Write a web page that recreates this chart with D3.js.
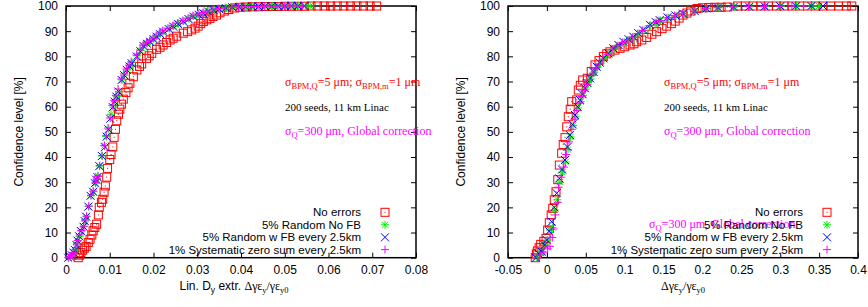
<!DOCTYPE html>
<html>
<head>
<meta charset="utf-8">
<script src="https://cdn.jsdelivr.net/npm/d3@7"></script>
<style>
body{margin:0;background:#fff}
text{font-family:"Liberation Sans",Arial,sans-serif;fill:#000}
.serif{font-family:"Liberation Serif","Times New Roman",serif}
</style>
</head>
<body>
<div id="grafico"></div>
<script>
// legend labels
const seriesNames=["No errors","5% Random No FB","5% Random w FB every 2.5km","1% Systematic zero sum every 2.5km"]
const seriesColors=["#ff0000","#00ee00","#0000ff","#ff00ff"]
const seriesMarks=["square","star","cross","plus"]

// tick labels
const leftTicks=[0,0.01,0.02,0.03,0.04,0.05,0.06,0.07,0.08]
const rightTicks=[-0.05,0,0.05,0.1,0.15,0.2,0.25,0.3,0.35,0.4]
const yTicks=[0,10,20,30,40,50,60,70,80,90,100]

// left panel: [value, confidence %]
const leftNoErrors=[[0.0028,0],[0.0031,1],[0.0034,2],[0.0038,3],[0.0042,3.8],[0.0046,4.5],[0.0051,6],[0.0055,7.3],[0.0059,9],[0.0062,10.7],[0.0066,12],[0.0070,13.3],[0.0074,17],[0.0076,20],[0.0081,22],[0.0084,23.2],[0.0087,26],[0.0090,28.5],[0.0093,32],[0.0095,35.5],[0.0100,39],[0.0103,41],[0.0107,44],[0.0110,47.8],[0.0113,51],[0.0116,54.4],[0.0120,57],[0.0123,59],[0.0127,61],[0.0131,63],[0.0137,65.6],[0.0142,67.5],[0.0146,69.3],[0.0154,71.9],[0.0162,74.6],[0.0168,76],[0.0173,77],[0.0184,79.2],[0.0190,80.2],[0.0196,81.2],[0.0207,82.8],[0.0215,83.6],[0.0222,84.5],[0.0230,85.5],[0.0238,86.5],[0.0245,87.2],[0.0253,88],[0.0268,89.2],[0.0278,89.8],[0.0287,90.5],[0.0295,91.2],[0.0302,92],[0.0308,93],[0.0314,93.8],[0.0322,94.5],[0.0329,95.1],[0.0336,95.8],[0.0344,96.4],[0.0352,97.3],[0.0362,98],[0.0372,98.6],[0.0385,99.2],[0.0398,99.5],[0.0412,99.6],[0.0426,99.7],[0.0440,99.7],[0.0455,99.8],[0.0470,99.8],[0.0485,99.8],[0.0500,99.9],[0.0515,99.9],[0.0530,99.9],[0.0545,99.9],[0.0560,100],[0.0575,100],[0.0590,100],[0.0605,100],[0.0620,100],[0.0635,100],[0.0650,100],[0.0665,100],[0.0680,100],[0.0695,100],[0.0710,100]]
const leftRandomNoFB=[[0.0006,0],[0.0010,0.5],[0.0014,1],[0.0018,2],[0.0022,3],[0.0025,5],[0.0027,6.8],[0.0031,8.5],[0.0035,10.6],[0.0040,12.3],[0.0044,14.5],[0.0047,16.3],[0.0052,20.3],[0.0057,24.6],[0.0063,26.2],[0.0068,29.6],[0.0071,31],[0.0073,32.5],[0.0077,36.4],[0.0083,40.4],[0.0088,44.5],[0.0092,48.1],[0.0098,51],[0.0103,57],[0.0108,59.8],[0.0112,62],[0.0116,64],[0.0121,66],[0.0128,70.6],[0.0134,72.5],[0.0140,74.6],[0.0146,76.2],[0.0151,77.5],[0.0163,80.2],[0.0171,82.3],[0.0178,84.3],[0.0186,85.2],[0.0193,86],[0.0201,87],[0.0208,88],[0.0216,89],[0.0224,90],[0.0236,91],[0.0246,92],[0.0257,93],[0.0269,94],[0.0281,95],[0.0292,96],[0.0304,96.7],[0.0315,97.3],[0.0327,98],[0.0339,98.5],[0.0352,98.9],[0.0367,99.2],[0.0382,99.5],[0.0397,99.6],[0.0412,99.7],[0.0427,99.8],[0.0442,99.8],[0.0457,99.9],[0.0472,99.9],[0.0487,99.9],[0.0502,100],[0.0517,100],[0.0532,100],[0.0547,100],[0.0558,100]]
const leftRandomFB=[[0.0005,0],[0.0009,0.5],[0.0013,1],[0.0017,2],[0.0021,3],[0.0024,5],[0.0026,6.8],[0.0030,8.5],[0.0034,10.6],[0.0040,12.3],[0.0043,14.5],[0.0046,16.3],[0.0051,20.3],[0.0056,24.6],[0.0062,26.2],[0.0066,29.6],[0.0069,31],[0.0072,32],[0.0076,36.4],[0.0082,40.4],[0.0089,43.9],[0.0093,48.1],[0.0097,51],[0.0101,55.2],[0.0107,59.8],[0.0111,62],[0.0115,64],[0.0120,66],[0.0127,70.6],[0.0133,72.5],[0.0139,74.6],[0.0145,76],[0.0150,77.2],[0.0162,79.9],[0.0170,82],[0.0177,84.1],[0.0185,85],[0.0192,85.8],[0.0200,86.8],[0.0207,87.8],[0.0215,88.8],[0.0222,89.8],[0.0235,90.8],[0.0245,91.8],[0.0256,92.8],[0.0268,93.8],[0.0280,94.8],[0.0291,95.8],[0.0303,96.5],[0.0314,97.1],[0.0325,97.8],[0.0337,98.4],[0.0350,98.8],[0.0365,99.2],[0.0380,99.5],[0.0395,99.6],[0.0410,99.7],[0.0425,99.8],[0.0440,99.8],[0.0455,99.9],[0.0470,99.9],[0.0485,99.9],[0.0500,100],[0.0515,100],[0.0530,100],[0.0545,100]]
const leftSystematic=[[0.0005,0],[0.0010,0.5],[0.0014,1.2],[0.0018,2],[0.0022,3.2],[0.0025,5.5],[0.0027,6.8],[0.0031,9],[0.0035,10.8],[0.0041,12.5],[0.0044,15],[0.0047,16.5],[0.0052,20.5],[0.0057,24.8],[0.0062,26.5],[0.0067,29.8],[0.0070,31.3],[0.0073,32.3],[0.0077,36.6],[0.0082,40.6],[0.0088,44.5],[0.0092,48.5],[0.0096,51.5],[0.0101,55.5],[0.0106,60.5],[0.0110,62.5],[0.0114,64.5],[0.0119,67],[0.0126,71],[0.0132,73],[0.0138,75],[0.0144,76.5],[0.0149,77.8],[0.0161,80.5],[0.0169,82.5],[0.0176,84.5],[0.0184,85.4],[0.0191,86.2],[0.0199,87.2],[0.0206,88.2],[0.0214,89.2],[0.0221,90.2],[0.0233,91.2],[0.0244,92.2],[0.0255,93.2],[0.0267,94.2],[0.0279,95.2],[0.0290,96.2],[0.0302,96.8],[0.0313,97.4],[0.0324,98],[0.0336,98.6],[0.0349,99],[0.0364,99.3],[0.0379,99.5],[0.0394,99.6],[0.0409,99.7],[0.0424,99.8],[0.0439,99.8],[0.0454,99.9],[0.0469,99.9],[0.0484,99.9],[0.0499,100],[0.0514,100],[0.0529,100],[0.0540,100]]

// right panel: [value, confidence %]
const rightNoErrors=[[-0.0150,0],[-0.0135,1.5],[-0.0123,2.7],[-0.0100,4],[-0.0080,5.3],[-0.0040,6.5],[-0.0011,7.7],[0.0010,11],[0.0031,13.9],[0.0055,17],[0.0075,19.6],[0.0095,23],[0.0117,26.2],[0.0140,31],[0.0160,36.8],[0.0190,41.5],[0.0210,45],[0.0233,47.7],[0.0255,52],[0.0275,56],[0.0300,59],[0.0319,62],[0.0383,62.7],[0.0404,66.6],[0.0430,68.5],[0.0460,70.6],[0.0520,71.3],[0.0570,74],[0.0619,76.6],[0.0670,78.3],[0.0726,79.9],[0.0770,81],[0.0811,81.8],[0.0875,82.5],[0.0940,83.2],[0.1000,83.8],[0.1069,84.5],[0.1120,85],[0.1154,85.8],[0.1220,86.5],[0.1283,87.5],[0.1350,88.8],[0.1410,89.8],[0.1480,91],[0.1540,92],[0.1600,93],[0.1650,94],[0.1700,95.2],[0.1750,96.4],[0.1800,97.2],[0.1850,98],[0.1930,99],[0.2000,99.3],[0.2080,99.4],[0.2160,99.5],[0.2240,99.5],[0.2320,99.6],[0.2450,100],[0.2550,100],[0.2650,100],[0.2750,100],[0.2850,100],[0.2950,100],[0.3050,100],[0.3150,100],[0.3250,100],[0.3350,100],[0.3450,100],[0.3550,100],[0.3650,100],[0.3750,100],[0.3850,100],[0.3920,100]]
const rightRandomNoFB=[[-0.0130,0],[-0.0100,1.5],[-0.0060,2.5],[-0.0020,5],[0.0008,7],[0.0040,11],[0.0070,12],[0.0100,19],[0.0133,23],[0.0166,30],[0.0200,34],[0.0240,38],[0.0272,43],[0.0305,48],[0.0338,52.5],[0.0370,56],[0.0402,59.5],[0.0434,62],[0.0466,64.5],[0.0498,67],[0.0530,69],[0.0562,71],[0.0608,73.5],[0.0648,75.5],[0.0690,77.2],[0.0735,79],[0.0800,81],[0.0864,83],[0.0930,84.3],[0.0993,85.6],[0.1060,86.6],[0.1120,87.6],[0.1185,89],[0.1250,90.3],[0.1335,92.3],[0.1410,93.4],[0.1460,94.2],[0.1560,95.3],[0.1660,96.1],[0.1760,96.9],[0.1910,97.9],[0.2060,98.9],[0.2210,99.3],[0.2410,99.6],[0.2610,99.7],[0.2810,99.8],[0.3010,99.9],[0.3210,100],[0.3410,100],[0.3500,100]]
const rightRandomFB=[[-0.0140,0],[-0.0110,1.7],[-0.0067,2.4],[-0.0030,5],[-0.0002,7],[0.0030,10.5],[0.0062,14.3],[0.0095,20],[0.0126,25.6],[0.0160,31.5],[0.0195,35],[0.0233,38.8],[0.0265,44],[0.0297,48.7],[0.0330,53],[0.0361,56.7],[0.0395,60],[0.0426,62.7],[0.0458,65],[0.0490,67.3],[0.0520,69.5],[0.0554,71.3],[0.0600,73.8],[0.0640,75.9],[0.0680,77.5],[0.0726,79.2],[0.0790,81.2],[0.0854,83.2],[0.0920,84.5],[0.0983,85.8],[0.1050,86.8],[0.1111,87.8],[0.1175,89.2],[0.1240,90.5],[0.1326,92.5],[0.1400,93.6],[0.1450,94.4],[0.1550,95.5],[0.1650,96.3],[0.1750,97],[0.1900,98],[0.2050,99],[0.2200,99.4],[0.2400,99.6],[0.2600,99.7],[0.2800,99.8],[0.3000,99.9],[0.3200,100],[0.3400,100],[0.3550,100]]
const rightSystematic=[[-0.0120,0],[-0.0090,1],[-0.0040,2.2],[0.0010,3.5],[0.0040,4.5],[0.0070,8],[0.0085,11.4],[0.0110,17],[0.0140,22],[0.0150,28],[0.0185,32],[0.0220,36],[0.0250,41],[0.0285,46],[0.0320,51],[0.0352,55],[0.0385,58.5],[0.0418,61.5],[0.0450,64],[0.0482,66.5],[0.0514,68.8],[0.0546,70.8],[0.0592,73.3],[0.0632,75.4],[0.0672,77],[0.0718,78.8],[0.0782,80.8],[0.0846,82.8],[0.0912,84.2],[0.0975,85.5],[0.1042,86.5],[0.1103,87.6],[0.1167,89],[0.1232,90.3],[0.1318,92.2],[0.1392,93.4],[0.1442,94.2],[0.1542,95.3],[0.1642,96.2],[0.1742,96.9],[0.1892,97.9],[0.2042,98.9],[0.2192,99.3],[0.2392,99.6],[0.2592,99.7],[0.2792,99.8],[0.2992,99.9],[0.3150,100],[0.3300,100]]

const W=868, H=307

let svg=d3.select("#grafico")
  .append("svg")
    .attr("width",W)
    .attr("height",H)
    .style("background","#fff")

// marker shapes
let drawMark=(g,type,color,x,y)=>{
    let s=4
    let m=g.append("g").attr("transform",`translate(${x},${y})`)
      .attr("stroke",color).attr("fill","none").attr("stroke-width",1)
    if(type=="square"){
        m.append("rect").attr("x",-s).attr("y",-s).attr("width",2*s).attr("height",2*s)
        m.append("rect").attr("x",-0.5).attr("y",-0.5).attr("width",1).attr("height",1)
          .attr("fill",color).attr("stroke","none")
    }
    if(type=="plus"||type=="star"){
        m.append("path").attr("d",`M${-s},0H${s}M0,${-s}V${s}`)
    }
    if(type=="cross"||type=="star"){
        let c=type=="star"?3:s
        m.append("path").attr("d",`M${-c},${-c}L${c},${c}M${-c},${c}L${c},${-c}`)
    }
}

// subscript helper
let addRuns=(t,runs)=>{
    let shift=0
    runs.forEach(r=>{
        let sub=r.sub?3:0
        let ts=t.append("tspan").text(r.t).attr("dy",sub-shift)
        if(r.sub) ts.style("font-size","8.5px")
        if(r.serif) ts.attr("class","serif")
        shift=sub
    })
}

let panel=(cfg)=>{
    let top=6, bottom=257.7
    let x=d3.scaleLinear().domain(cfg.domain).range([cfg.left,cfg.right])
    let y=d3.scaleLinear().domain([0,100]).range([bottom,top])
    let g=svg.append("g")

    //axes, ticks inside like gnuplot
    g.append("g").attr("transform",`translate(0,${bottom})`)
      .call(d3.axisBottom(x).tickValues(cfg.ticks).tickSizeInner(-5).tickSizeOuter(0).tickPadding(8)
        .tickFormat(d=>Math.abs(d)<1e-9?"0":String(+d.toFixed(2))))
    g.append("g").attr("transform",`translate(0,${top})`)
      .call(d3.axisTop(x).tickValues(cfg.ticks).tickSizeInner(-5).tickSizeOuter(0).tickFormat(""))
    g.append("g").attr("transform",`translate(${cfg.left},0)`)
      .call(d3.axisLeft(y).tickValues(yTicks).tickSizeInner(-5).tickSizeOuter(0).tickPadding(8))
    g.append("g").attr("transform",`translate(${cfg.right},0)`)
      .call(d3.axisRight(y).tickValues(yTicks).tickSizeInner(-5).tickSizeOuter(0).tickFormat(""))
    g.selectAll(".domain").remove()
    g.selectAll(".tick line").attr("stroke","#000")
    g.selectAll(".tick text").style("font-size","12px").style("font-family","'Liberation Sans',Arial,sans-serif").attr("fill","#000")

    g.append("rect").attr("x",cfg.left).attr("y",top)
      .attr("width",cfg.right-cfg.left).attr("height",bottom-top)
      .attr("fill","none").attr("stroke","#000").attr("stroke-width",1.5)

    //labels
    g.append("text").attr("transform",`translate(${cfg.left-43},${(top+bottom)/2}) rotate(-90)`)
      .style("text-anchor","middle").style("font-size","12px").text("Confidence level [%]")
    let xl=g.append("text").attr("x",cfg.xlabelX).attr("y",290)
      .style("text-anchor","middle").style("font-size","12px")
    addRuns(xl,cfg.xlabel)

    //annotations
    let ax=cfg.noteX
    let t1=g.append("text").attr("x",ax).attr("y",86).attr("class","serif")
      .style("font-size","12px").style("fill","#ff0000")
    addRuns(t1,[{t:"σ"},{t:"BPM,Q",sub:1},{t:"=5 μm; σ"},{t:"BPM,m",sub:1},{t:"=1 μm"}])
    g.append("text").attr("x",ax).attr("y",111).attr("class","serif")
      .style("font-size","11px").text("200 seeds, 11 km Linac")
    let t3=g.append("text").attr("x",ax).attr("y",135).attr("class","serif")
      .style("font-size","12px").style("fill","#ff00ff")
    addRuns(t3,[{t:"σ"},{t:"Q",sub:1},{t:"=300 μm, Global correction"}])
    if(cfg.extraNote){
        let t4=g.append("text").attr("x",cfg.extraNote).attr("y",228).attr("class","serif")
          .style("font-size","12px").style("fill","#ff00ff")
        addRuns(t4,[{t:"σ"},{t:"Q",sub:1},{t:"=300 μm, Global correction"}])
    }

    //points
    cfg.series.forEach((data,i)=>{
        let sg=g.append("g")
        data.forEach(d=>drawMark(sg,seriesMarks[i],seriesColors[i],x(d[0]),y(d[1])))
    })

    //legend
    let rows=[212.3,224.8,237.3,249.6]
    seriesNames.forEach((n,i)=>{
        g.append("text").attr("x",cfg.legendX).attr("y",rows[i]+4)
          .style("text-anchor","end").style("font-size","11.5px").text(n)
        drawMark(g,seriesMarks[i],seriesColors[i],cfg.legendX+24,rows[i])
    })
}

panel({
    left:66,right:416,domain:[0,0.08],ticks:leftTicks,
    xlabelX:234,
    xlabel:[{t:"Lin. D"},{t:"y",sub:1},{t:" extr. "},{t:"Δγε",serif:1},{t:"y",sub:1,serif:1},{t:"/γε",serif:1},{t:"y0",sub:1,serif:1}],
    noteX:285,legendX:361,
    series:[leftNoErrors,leftRandomNoFB,leftRandomFB,leftSystematic]
})
panel({
    left:508,right:858,domain:[-0.05,0.4],ticks:rightTicks,
    xlabelX:683,
    xlabel:[{t:"Δγε",serif:1},{t:"y",sub:1,serif:1},{t:"/γε",serif:1},{t:"y0",sub:1,serif:1}],
    noteX:664,legendX:803,extraNote:649,
    series:[rightNoErrors,rightRandomNoFB,rightRandomFB,rightSystematic]
})
</script>
</body>
</html>
